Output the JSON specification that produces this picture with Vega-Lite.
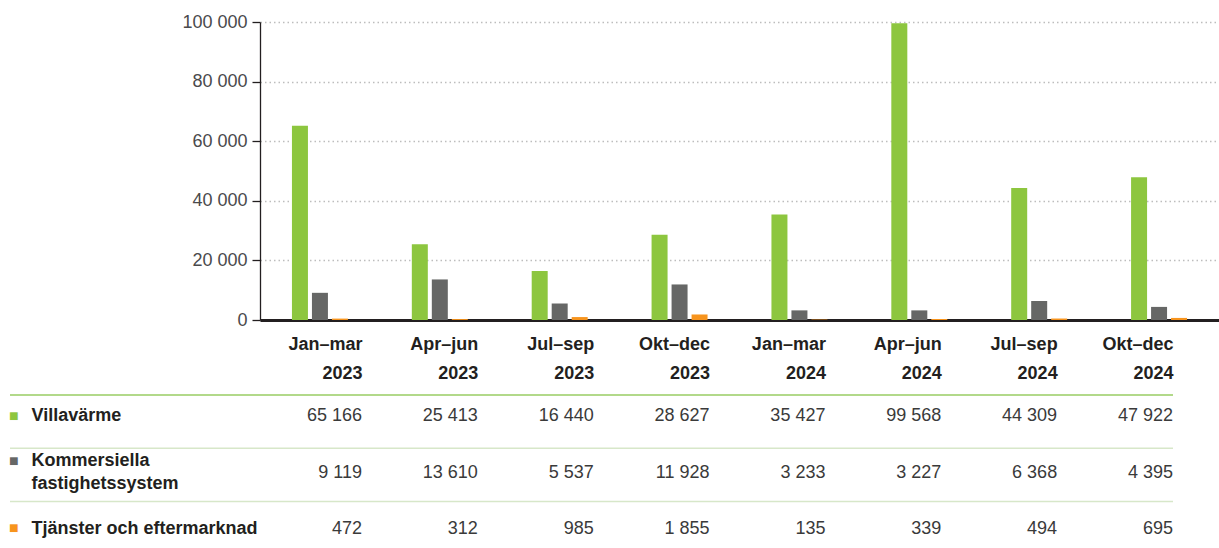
{
  "$schema": "https://vega.github.io/schema/vega-lite/v6.json",
  "padding": {"left": 5, "top": 13, "right": 0, "bottom": 0},
  "spacing": 6,
  "config": {
    "locale": {"number": {"decimal": ",", "thousands": " ", "grouping": [3], "currency": ["", " kr"]}},
    "view": {"stroke": null},
    "font": "Liberation Sans"
  },
  "datasets": {
    "sales": [
      {"period": "Jan–mar 2023", "series": "Villavärme", "value": 65166},
      {"period": "Apr–jun 2023", "series": "Villavärme", "value": 25413},
      {"period": "Jul–sep 2023", "series": "Villavärme", "value": 16440},
      {"period": "Okt–dec 2023", "series": "Villavärme", "value": 28627},
      {"period": "Jan–mar 2024", "series": "Villavärme", "value": 35427},
      {"period": "Apr–jun 2024", "series": "Villavärme", "value": 99568},
      {"period": "Jul–sep 2024", "series": "Villavärme", "value": 44309},
      {"period": "Okt–dec 2024", "series": "Villavärme", "value": 47922},
      {"period": "Jan–mar 2023", "series": "Kommersiella fastighetssystem", "value": 9119},
      {"period": "Apr–jun 2023", "series": "Kommersiella fastighetssystem", "value": 13610},
      {"period": "Jul–sep 2023", "series": "Kommersiella fastighetssystem", "value": 5537},
      {"period": "Okt–dec 2023", "series": "Kommersiella fastighetssystem", "value": 11928},
      {"period": "Jan–mar 2024", "series": "Kommersiella fastighetssystem", "value": 3233},
      {"period": "Apr–jun 2024", "series": "Kommersiella fastighetssystem", "value": 3227},
      {"period": "Jul–sep 2024", "series": "Kommersiella fastighetssystem", "value": 6368},
      {"period": "Okt–dec 2024", "series": "Kommersiella fastighetssystem", "value": 4395},
      {"period": "Jan–mar 2023", "series": "Tjänster och eftermarknad", "value": 472},
      {"period": "Apr–jun 2023", "series": "Tjänster och eftermarknad", "value": 312},
      {"period": "Jul–sep 2023", "series": "Tjänster och eftermarknad", "value": 985},
      {"period": "Okt–dec 2023", "series": "Tjänster och eftermarknad", "value": 1855},
      {"period": "Jan–mar 2024", "series": "Tjänster och eftermarknad", "value": 135},
      {"period": "Apr–jun 2024", "series": "Tjänster och eftermarknad", "value": 339},
      {"period": "Jul–sep 2024", "series": "Tjänster och eftermarknad", "value": 494},
      {"period": "Okt–dec 2024", "series": "Tjänster och eftermarknad", "value": 695}
    ],
    "rows": [
      {"series": "Villavärme"},
      {"series": "Kommersiella fastighetssystem"},
      {"series": "Tjänster och eftermarknad"}
    ]
  },
  "vconcat": [
    {
      "width": 1209,
      "height": 298,
      "data": {"name": "sales"},
      "mark": {"type": "bar"},
      "encoding": {
        "x": {
          "field": "period", "type": "nominal", "sort": null,
          "scale": {
            "domain": ["Jan–mar 2023", "Apr–jun 2023", "Jul–sep 2023", "Okt–dec 2023", "Jan–mar 2024", "Apr–jun 2024", "Jul–sep 2024", "Okt–dec 2024"],
            "range": [250, 1209], "paddingInner": 0.533, "paddingOuter": 0.2665
          },
          "axis": {"labels": false, "ticks": false, "title": null, "domainColor": "#231f20", "domainWidth": 3, "grid": false}
        },
        "xOffset": {
          "field": "series", "type": "nominal",
          "scale": {"domain": ["Villavärme", "Kommersiella fastighetssystem", "Tjänster och eftermarknad"], "paddingInner": 0.2, "paddingOuter": 0}
        },
        "y": {
          "field": "value", "type": "quantitative",
          "scale": {"domain": [0, 100000]},
          "axis": {
            "orient": "left", "offset": -250, "title": null,
            "values": [0, 20000, 40000, 60000, 80000, 100000], "format": ",d",
            "labelFont": "Liberation Sans", "labelFontSize": 18, "labelColor": "#4a4a4c", "labelPadding": 5,
            "tickSize": 8, "tickColor": "#231f20", "tickWidth": 1.3,
            "domainColor": "#231f20", "domainWidth": 1.3,
            "grid": true, "gridColor": "#bdbdbd", "gridDash": [1.5, 3], "gridWidth": 1.3
          }
        },
        "color": {
          "field": "series", "type": "nominal",
          "scale": {"domain": ["Villavärme", "Kommersiella fastighetssystem", "Tjänster och eftermarknad"], "range": ["#8dc63f", "#666766", "#f7941d"]},
          "legend": null
        }
      }
    },
    {
      "width": 1163,
      "height": 154,
      "resolve": {"scale": {"y": "independent"}, "axis": {"y": "independent"}},
      "layer": [
        {
          "data": {"name": "rows"},
          "mark": {"type": "rule"},
          "encoding": {
            "y": {
              "field": "series", "type": "nominal", "sort": null, "bandPosition": 0,
              "scale": {"type": "band", "domain": ["Villavärme", "Kommersiella fastighetssystem", "Tjänster och eftermarknad"], "range": [0, 159.6], "paddingInner": 0, "paddingOuter": 0},
              "axis": {
                "orient": "left", "title": null, "domain": false, "grid": false, "ticks": false, "offset": 0,
                "labelExpr": "'■'", "labelAlign": "left", "labelPadding": 1.5, "labelBaseline": "middle",
                "labelFont": "Liberation Sans", "labelFontSize": 16,
                "labelColor": {"condition": [{"test": "datum.value === 'Villavärme'", "value": "#8dc63f"}, {"test": "datum.value === 'Tjänster och eftermarknad'", "value": "#f7941d"}], "value": "#666766"},
                "labelOffset": {"condition": [{"test": "datum.value === 'Villavärme'", "value": -5.6}, {"test": "datum.value === 'Kommersiella fastighetssystem'", "value": -14.3}], "value": 0}
              }
            },
            "color": {"condition": {"test": "datum.series === 'Villavärme'", "value": "#b2d98a"}, "value": "#d7e7c9"},
            "strokeWidth": {"condition": {"test": "datum.series === 'Villavärme'", "value": 2}, "value": 1.5}
          }
        },
        {
          "data": {"name": "sales"},
          "mark": {"type": "text", "align": "right", "baseline": "middle", "fontSize": 18, "color": "#3a3a3a", "font": "Liberation Sans"},
          "encoding": {
            "x": {
              "field": "period", "type": "ordinal", "sort": null,
              "scale": {
                "type": "point", "padding": 0,
                "domain": ["Jan–mar 2023", "Apr–jun 2023", "Jul–sep 2023", "Okt–dec 2023", "Jan–mar 2024", "Apr–jun 2024", "Jul–sep 2024", "Okt–dec 2024"],
                "range": [352, 1163]
              },
              "axis": {
                "orient": "top", "title": null, "ticks": false, "tickSize": 0, "grid": false, "domain": false,
                "labelPadding": 41.7, "labelAlign": "right", "labelBaseline": "bottom", "labelAngle": 0,
                "labelExpr": "split(datum.label, ' ')", "labelLineHeight": 29,
                "labelFont": "Liberation Sans", "labelFontWeight": "bold", "labelFontSize": 18, "labelColor": "#231f20",
                "labelOverlap": false, "labelLimit": 400
              }
            },
            "y": {
              "field": "series", "type": "nominal", "sort": null,
              "scale": {"type": "band", "domain": ["Villavärme", "Kommersiella fastighetssystem", "Tjänster och eftermarknad"], "range": [-7, 162.5], "paddingInner": 0, "paddingOuter": 0},
              "axis": {
                "orient": "left", "title": null, "domain": false, "grid": false,
                "ticks": true, "tickSize": 8, "tickWidth": 8, "offset": -7, "tickColor": "transparent",
                "labelAlign": "left", "labelPadding": -22, "labelBaseline": "middle",
                "labelOffset": {"condition": {"test": "datum.value === 'Kommersiella fastighetssystem'", "value": -11.5}, "value": 0},
                "labelFont": "Liberation Sans", "labelFontWeight": "bold", "labelFontSize": 18, "labelColor": "#231f20",
                "labelLineHeight": 23, "labelLimit": 400,
                "labelExpr": "datum.label === 'Kommersiella fastighetssystem' ? ['Kommersiella', 'fastighetssystem'] : datum.label"
              }
            },
            "text": {"field": "value", "type": "quantitative", "format": ",d"}
          }
        }
      ]
    }
  ]
}
